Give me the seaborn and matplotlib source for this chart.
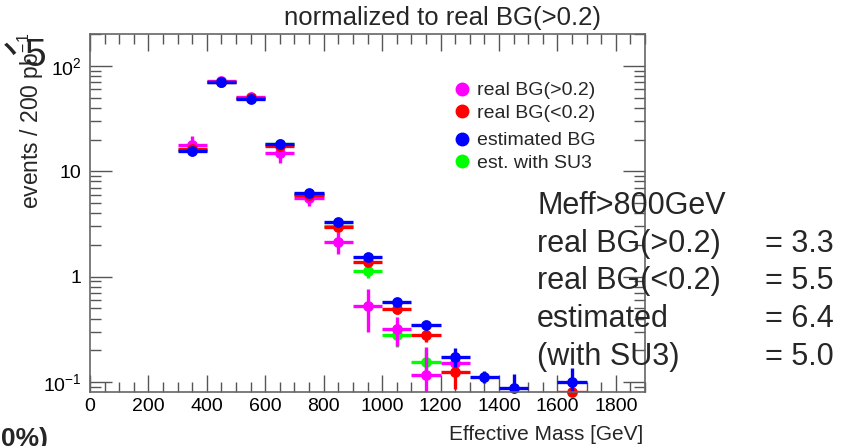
import numpy as np
import pandas as pd
import matplotlib
matplotlib.use("Agg")
import matplotlib.pyplot as plt
import seaborn as sns
from matplotlib.lines import Line2D
from matplotlib.ticker import FixedLocator, FixedFormatter, LogLocator, NullFormatter, MultipleLocator

# ---------------- data ----------------
bin_centers = [350, 450, 550, 650, 750, 850, 950, 1050, 1150, 1250, 1350, 1450, 1550, 1650]
bin_half_width = 50

real_gt = [17.8, 72, 51, 15.0, 5.6, 2.14, 0.53, 0.318, 0.116, 0.152, np.nan, np.nan, np.nan, np.nan]
real_gt_err = [3.8, 6, 4.5, 3.0, 0.9, 0.5, 0.23, 0.1, 0.1, 0.02, np.nan, np.nan, np.nan, np.nan]

real_lt = [16.2, 71, 50, 17.5, 5.9, 2.98, 1.38, 0.489, 0.281, 0.125, np.nan, np.nan, np.nan, 0.080]
real_lt_err = [1.5, 3, 2.5, 1.5, 0.4, 0.2, 0.1, 0.05, 0.04, 0.04, np.nan, np.nan, np.nan, 0.02]

est_su3 = [16.0, 71, 49.5, 18.3, 6.1, 3.05, 1.13, 0.277, 0.156, np.nan, np.nan, np.nan, np.nan, np.nan]
est_su3_err = [1.0, 3, 2, 1.2, 0.4, 0.25, 0.15, 0.06, 0.05, np.nan, np.nan, np.nan, np.nan, np.nan]

est_bg = [15.7, 71, 49, 18.0, 6.27, 3.28, 1.53, 0.578, 0.344, 0.173, 0.112, 0.0867, np.nan, 0.0998]
est_bg_err = [1.0, 3, 2, 1.0, 0.3, 0.2, 0.12, 0.05, 0.03, 0.035, 0.015, 0.032, np.nan, 0.035]

series_names = ["real BG(>0.2)", "real BG(<0.2)", "estimated BG", "est. with SU3"]
series_colors = {"real BG(>0.2)": "#ff00ff", "real BG(<0.2)": "#ff0000",
                 "estimated BG": "#0000ff", "est. with SU3": "#00ff00"}

summary_labels = ["Meff>800GeV", "real BG(>0.2)", "real BG(<0.2)", "estimated", "(with SU3)"]
summary_values = ["", "= 3.3", "= 5.5", "= 6.4", "= 5.0"]

x_ticks = [0, 200, 400, 600, 800, 1000, 1200, 1400, 1600, 1800]
y_ticks = [0.1, 1, 10, 100]
y_ticklabels = [r"$10^{-1}$", "1", "10", r"$10^{2}$"]

# ---------------- style ----------------
sns.set_theme(style="ticks")
plt.rcParams["font.family"] = ["Liberation Sans", "DejaVu Sans"]
plt.rcParams["mathtext.fontset"] = "custom"
plt.rcParams["mathtext.rm"] = "Liberation Sans"
plt.rcParams["mathtext.it"] = "Liberation Sans"

fig = plt.figure(figsize=(8.41, 4.46), dpi=100)
ax = fig.add_axes([90 / 841, 1 - 392 / 446, 555 / 841, 358 / 446])

# draw order: green, magenta, red, blue
draw_order = [("est. with SU3", est_su3, est_su3_err),
              ("real BG(>0.2)", real_gt, real_gt_err),
              ("real BG(<0.2)", real_lt, real_lt_err),
              ("estimated BG", est_bg, est_bg_err)]

rows = []
for name, vals, errs in draw_order:
    for xc, v, e in zip(bin_centers, vals, errs):
        if not np.isnan(v):
            rows.append({"mass": xc, "events": v, "err": e, "series": name})
df = pd.DataFrame(rows)

for i, (name, vals, errs) in enumerate(draw_order):
    sub = df[df["series"] == name]
    ax.errorbar(sub["mass"], sub["events"], xerr=bin_half_width, yerr=sub["err"],
                fmt="none", ecolor=series_colors[name], elinewidth=2.4, capsize=0,
                zorder=2 + i)
    sns.scatterplot(data=sub, x="mass", y="events", color=series_colors[name],
                    s=60, edgecolor=series_colors[name], linewidth=0, ax=ax,
                    zorder=2.5 + i, legend=False, clip_on=False)

ax.set_yscale("log")
ax.set_xlim(0, 1900)
ax.set_ylim(0.0803, 201)

ax.xaxis.set_major_locator(FixedLocator(x_ticks))
ax.xaxis.set_minor_locator(MultipleLocator(50))
ax.set_xticklabels([str(t) for t in x_ticks])
ax.yaxis.set_major_locator(FixedLocator(y_ticks))
ax.yaxis.set_major_formatter(FixedFormatter(y_ticklabels))
ax.yaxis.set_minor_locator(LogLocator(base=10, subs=np.arange(2, 10)))
ax.yaxis.set_minor_formatter(NullFormatter())

ax.tick_params(axis="both", which="both", direction="in", top=True, right=True,
               colors="#555555", labelcolor="black", labelsize=14)
ax.tick_params(axis="x", which="major", length=12, width=1, pad=4)
ax.tick_params(axis="x", which="minor", length=7, width=1)
ax.tick_params(axis="y", which="major", length=16, width=1, pad=6)
ax.tick_params(axis="y", which="minor", length=8, width=1)
for sp in ax.spines.values():
    sp.set_color("#666666")
    sp.set_linewidth(1.2)
    sp.set_zorder(10)

ax.set_xlabel("")
ax.set_ylabel("")
fig.text(643 / 841, 1 - 435 / 446, "Effective Mass [GeV]", fontsize=15,
         ha="right", va="center")
fig.text(31 / 841, 1 - 33 / 446, r"events / 200 pb$^{-1}$", fontsize=16.5,
         ha="center", va="top", rotation=90)

fig.text(443 / 841, 1 - 18 / 446, "normalized to real BG(>0.2)", fontsize=18.5,
         ha="center", va="center")

# legend (two groups)
h1 = [Line2D([], [], marker="o", ls="none", color=series_colors[n], markersize=9)
      for n in series_names[:2]]
h2 = [Line2D([], [], marker="o", ls="none", color=series_colors[n], markersize=9)
      for n in series_names[2:]]
leg1 = ax.legend(h1, series_names[:2], loc="upper left", frameon=False, fontsize=14,
                 bbox_to_anchor=(441 / 841, 1 - 72 / 446), bbox_transform=fig.transFigure,
                 handletextpad=0.15, labelspacing=0.25, borderpad=0, handlelength=1.2)
ax.add_artist(leg1)
leg2 = ax.legend(h2, series_names[2:], loc="upper left", frameon=False, fontsize=14,
                 bbox_to_anchor=(441 / 841, 1 - 122 / 446), bbox_transform=fig.transFigure,
                 handletextpad=0.15, labelspacing=0.25, borderpad=0, handlelength=1.2)

# summary text block
for i, (lab, val) in enumerate(zip(summary_labels, summary_values)):
    y = 1 - (206 + i * 37.7) / 446
    fig.text(537 / 841, y, lab, fontsize=22, ha="left", va="center", zorder=20)
    if val:
        fig.text(765 / 841, y, val, fontsize=22, ha="left", va="center", zorder=20)

# stray slide text fragments
fig.text(1 / 841, 1 - 427 / 446, "0%)", fontsize=19, ha="left", va="top",
         fontweight="bold")
fig.text(10 / 841, 1 - 50 / 446, "ヽ", fontsize=17, ha="center", va="center",
         fontweight="bold", family=["Noto Sans CJK JP", "DejaVu Sans"])
fig.text(35 / 841, 1 - 56 / 446, "5", fontsize=28, ha="center", va="center")

fig.savefig("out.png", dpi=100)
